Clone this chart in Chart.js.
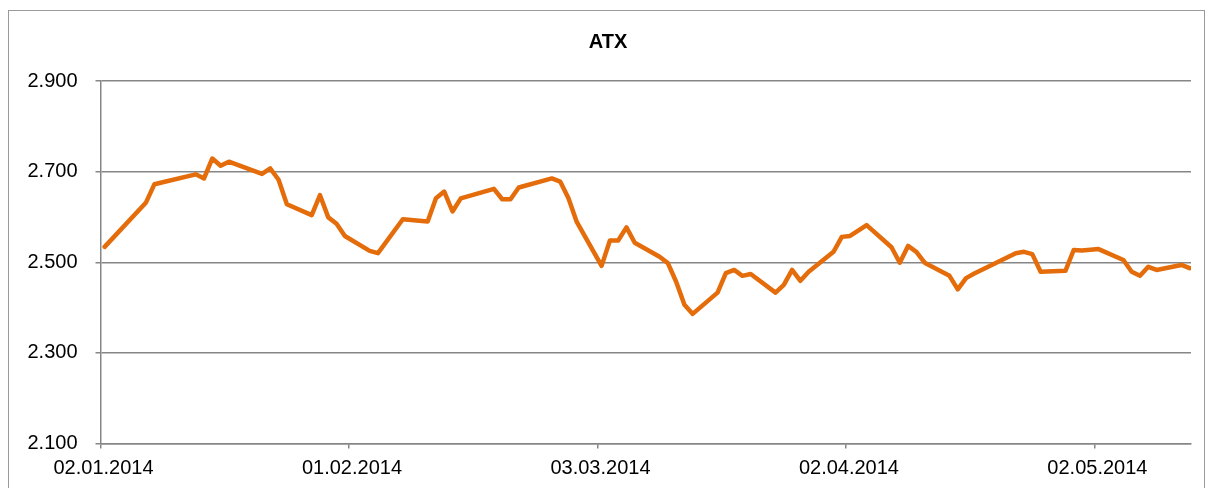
<!DOCTYPE html>
<html>
<head>
<meta charset="utf-8">
<script src="https://cdn.jsdelivr.net/npm/chart.js@4"></script>
<style>
    body { margin: 0; background: #fff; }
    canvas { display: block; }
</style>
</head>
<body>
<canvas id="atxChart" width="1208" height="488"></canvas>
<script>
// Data
const dates = [
    "02.01.2014", "07.01.2014", "08.01.2014", "13.01.2014", "14.01.2014", "15.01.2014", "16.01.2014", "17.01.2014",
    "21.01.2014", "22.01.2014", "23.01.2014", "24.01.2014", "27.01.2014", "28.01.2014", "29.01.2014", "30.01.2014", "31.01.2014",
    "03.02.2014", "04.02.2014", "07.02.2014", "10.02.2014", "11.02.2014", "12.02.2014", "13.02.2014", "14.02.2014",
    "18.02.2014", "19.02.2014", "20.02.2014", "21.02.2014", "25.02.2014", "26.02.2014", "27.02.2014", "28.02.2014",
    "03.03.2014", "04.03.2014", "05.03.2014", "06.03.2014", "07.03.2014", "10.03.2014", "11.03.2014", "12.03.2014",
    "13.03.2014", "14.03.2014", "17.03.2014", "18.03.2014", "19.03.2014", "20.03.2014", "21.03.2014", "24.03.2014",
    "25.03.2014", "26.03.2014", "27.03.2014", "28.03.2014", "31.03.2014",
    "01.04.2014", "02.04.2014", "04.04.2014", "07.04.2014", "08.04.2014", "09.04.2014", "10.04.2014", "11.04.2014",
    "14.04.2014", "15.04.2014", "16.04.2014", "17.04.2014", "22.04.2014", "23.04.2014", "24.04.2014", "25.04.2014",
    "28.04.2014", "29.04.2014", "30.04.2014",
    "02.05.2014", "05.05.2014", "06.05.2014", "07.05.2014", "08.05.2014", "09.05.2014", "12.05.2014", "13.05.2014"
];

const values = [
    2534, 2632, 2672, 2694, 2685, 2729, 2713, 2722,
    2695, 2707, 2682, 2628, 2604, 2648, 2599, 2585, 2558,
    2525, 2520, 2595, 2590, 2641, 2656, 2612, 2641,
    2662, 2639, 2639, 2665, 2685, 2678, 2641, 2589,
    2492, 2548, 2548, 2577, 2543, 2512, 2498, 2457,
    2406, 2386, 2433, 2476, 2483, 2470, 2474, 2433,
    2450, 2483, 2459, 2479, 2523,
    2556, 2558, 2582, 2533, 2499, 2536, 2523, 2499,
    2470, 2440, 2465, 2475, 2520, 2523, 2518, 2479,
    2481, 2527, 2526,
    2529, 2505, 2479, 2470, 2490, 2483, 2494, 2487
];

const xTickLabels = ["02.01.2014", "01.02.2014", "03.03.2014", "02.04.2014", "02.05.2014"];
const yTicks = [2100, 2300, 2500, 2700, 2900];
const yTickLabels = ["2.100", "2.300", "2.500", "2.700", "2.900"];

const lineColor = "#E46C0A";
const gridColor = "#868686";

// Helpers
function parseDate(str) {
    const [d, m, y] = str.split(".").map(Number);
    return Date.UTC(y, m - 1, d);
}

const startDay = parseDate(xTickLabels[0]);

function dayIndex(str) {
    return Math.round((parseDate(str) - startDay) / 86400000);
}

// each date sits in the middle of its day slot
const points = dates.map((date, i) => ({ x: dayIndex(date) + 0.5, y: values[i] }));
const xTickValues = xTickLabels.map(label => dayIndex(label));

// Outer frame
const framePlugin = {
    id: "frame",
    beforeDraw(chart) {
        const ctx = chart.ctx;
        ctx.save();
        ctx.fillStyle = "#fff";
        ctx.fillRect(0, 0, chart.width, chart.height);
        ctx.strokeStyle = "#9a9a9a";
        ctx.lineWidth = 1;
        ctx.strokeRect(8.5, 10.5, 1196, 500);
        ctx.restore();
    }
};

const ctx = document.getElementById("atxChart").getContext("2d");

new Chart(ctx, {
    type: "line",
    data: {
        datasets: [{
            label: "ATX",
            data: points,
            borderColor: lineColor,
            borderWidth: 4.5,
            borderJoinStyle: "round",
            borderCapStyle: "round",
            pointRadius: 0,
            tension: 0,
            fill: false
        }]
    },
    options: {
        responsive: false,
        animation: false,
        devicePixelRatio: 1,
        layout: {
            padding: { left: 25, right: 17, top: 12, bottom: 8.5 }
        },
        plugins: {
            legend: { display: false },
            tooltip: { enabled: false },
            title: {
                display: true,
                text: "ATX",
                color: "#000",
                font: { family: "'Liberation Sans', Arial, sans-serif", size: 20, weight: "bold" },
                padding: { top: 18, bottom: 27 }
            }
        },
        scales: {
            x: {
                type: "linear",
                min: 0,
                max: 131.66,
                afterBuildTicks: function (scale) {
                    scale.ticks = xTickValues.map(v => ({ value: v }));
                },
                afterFit: function (scale) {
                    scale.height = 36;
                },
                grid: {
                    drawOnChartArea: false,
                    tickLength: 5,
                    lineWidth: 1.5,
                    color: gridColor
                },
                border: { display: true, color: gridColor, width: 1.5 },
                ticks: {
                    autoSkip: false,
                    maxRotation: 0,
                    padding: 8,
                    labelOffset: 3,
                    color: "#000",
                    font: { family: "'Liberation Sans', Arial, sans-serif", size: 20 },
                    callback: function (value, index) {
                        return xTickLabels[index];
                    }
                }
            },
            y: {
                min: yTicks[0],
                max: yTicks[yTicks.length - 1],
                afterBuildTicks: function (scale) {
                    scale.ticks = yTicks.map(v => ({ value: v }));
                },
                afterFit: function (scale) {
                    scale.width = 75.5;
                },
                grid: {
                    color: gridColor,
                    lineWidth: 1.5,
                    tickLength: 5
                },
                border: { display: true, color: gridColor, width: 1.5 },
                ticks: {
                    padding: 18,
                    color: "#000",
                    font: { family: "'Liberation Sans', Arial, sans-serif", size: 20 },
                    callback: function (value, index) {
                        return yTickLabels[index];
                    }
                }
            }
        }
    },
    plugins: [framePlugin]
});
</script>
</body>
</html>
